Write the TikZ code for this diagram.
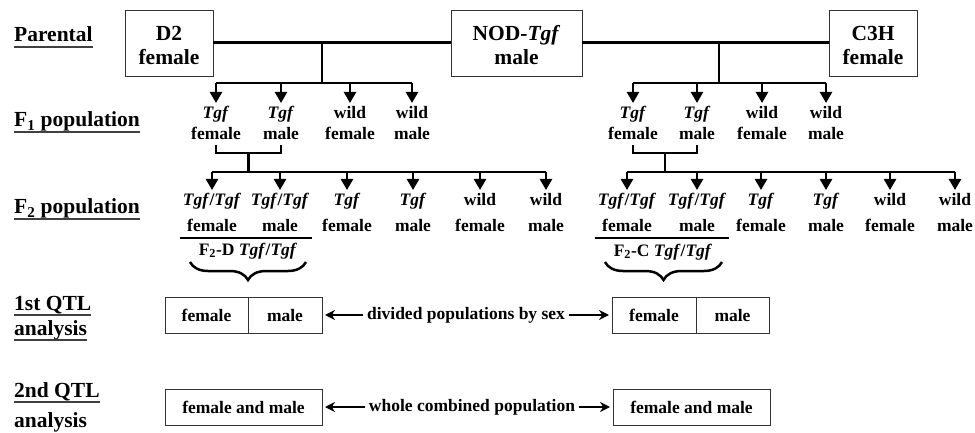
\documentclass[tikz,border=0pt]{standalone}
\usepackage{fontspec}
\setmainfont{Liberation Serif}
\usetikzlibrary{positioning,calc,arrows.meta,decorations.pathreplacing}
\tikzset{
  figfont/.style={font=\fontsize{17.5}{21}\selectfont\bfseries},
  rowfont/.style={font=\fontsize{21.5}{24}\selectfont\bfseries},
  rowlabel/.style={rowfont, anchor=base west, inner sep=0pt},
  rowline/.style={draw=black!75, line width=1.4pt},
  parentbox/.style={draw=black!80, line width=0.9pt, rowfont, align=center, minimum height=66pt, inner sep=0pt, text height=44pt, text depth=0pt},
  f1item/.style={figfont, align=center, anchor=north, inner sep=0pt},
  f2item/.style={font=\fontsize{17.5}{26}\selectfont\bfseries, align=center, anchor=north, inner sep=0pt},
  qtlbox/.style={draw=black!80, line width=0.9pt, figfont, minimum height=36pt, inner sep=0pt, outer sep=0pt, text height=12.5pt, text depth=0pt},
  sidetext/.style={figfont, inner sep=4pt},
  crossline/.style={line width=3pt},
  barline/.style={line width=2.5pt},
  hubline/.style={line width=2pt},
  droparrow/.style={line width=2.5pt, -{Triangle[width=12pt,length=11pt]}, shorten >=3pt},
  sidearrow/.style={line width=2.2pt, -{Stealth[length=10pt,width=10pt]}, shorten >=3pt},
  popbrace/.style={decorate, decoration={brace, mirror, amplitude=18pt}, line width=2.5pt},
}
\newcommand{\tgf}{\textit{Tgf}}

\begin{document}
\begin{tikzpicture}[x=1pt, y=-1pt]
  \useasboundingbox (0,0) rectangle (975,433);

  % Row labels, underlined
  \node[rowlabel] (lpar) at (14,42) {Parental};
  \node[rowlabel] (lfa) at (14,127) {F\textsubscript{1} population};
  \node[rowlabel] (lfb) at (14,214) {F\textsubscript{2} population};
  \node[rowlabel] (lqa) at (14,310) {1st QTL};
  \node[rowlabel] (lqb) at (14,335) {analysis};
  \node[rowlabel] (lqc) at (14,397) {2nd QTL};
  \node[rowlabel] (lqd) at (14,427) {analysis};
  \foreach \n in {lpar,lfa,lfb,lqa,lqb,lqc}
    \draw[rowline] ([yshift=-5pt]\n.base west) -- ([yshift=-5pt]\n.base east);

  % Parental cross
  \node[parentbox, minimum width=88pt] (d2) at (169,43) {D2\\female};
  \node[parentbox, minimum width=131pt] (nod) at (516.5,43) {NOD-\tgf\\male};
  \node[parentbox, minimum width=88pt] (c3h) at (873,43) {C3H\\female};
  \draw[crossline] (d2) -- (nod);
  \draw[crossline] (nod) -- (c3h);
  \coordinate (jd) at (322,43);
  \coordinate (hd) at (322,83);
  \coordinate (jc) at (719,43);
  \coordinate (hc) at (719,83);

  % F1 population
  \node[f1item] (fd1) at (216,106) {\tgf\\female};
  \node[f1item] (fd2) at (281,106) {\tgf\\male};
  \node[f1item] (fd3) at (350,106) {wild\\female};
  \node[f1item] (fd4) at (412,106) {wild\\male};
  \node[f1item] (fc1) at (633,106) {\tgf\\female};
  \node[f1item] (fc2) at (697,106) {\tgf\\male};
  \node[f1item] (fc3) at (762,106) {wild\\female};
  \node[f1item] (fc4) at (826,106) {wild\\male};
  \draw[barline] (jd) -- (hd);
  \draw[barline] (jc) -- (hc);
  \draw[barline] (fd1 |- hd) -- (fd4 |- hd);
  \draw[barline] (fc1 |- hc) -- (fc4 |- hc);
  \foreach \k in {fd1,fd2,fd3,fd4}
    \draw[droparrow] (\k |- hd) -- (\k.north);
  \foreach \k in {fc1,fc2,fc3,fc4}
    \draw[droparrow] (\k |- hc) -- (\k.north);

  % Tgf x Tgf intercross
  \coordinate (kd) at (248.5,153);
  \coordinate (gd) at (248.5,172);
  \coordinate (kc) at (665,153);
  \coordinate (gc) at (665,172);
  \draw[barline] ([yshift=-5pt]fd1.south) -- (fd1 |- kd) -- (fd2 |- kd) -- ([yshift=-5pt]fd2.south);
  \draw[barline] ([yshift=-5pt]fc1.south) -- (fc1 |- kc) -- (fc2 |- kc) -- ([yshift=-5pt]fc2.south);
  \draw[barline] (kd) -- (gd);
  \draw[barline] (kc) -- (gc);

  % F2 population
  \node[f2item] (sd1) at (212,193) {\tgf/\tgf\\female};
  \node[f2item] (sd2) at (280,193) {\tgf/\tgf\\male};
  \node[f2item] (sd3) at (347,193) {\tgf\\female};
  \node[f2item] (sd4) at (413,193) {\tgf\\male};
  \node[f2item] (sd5) at (480,193) {wild\\female};
  \node[f2item] (sd6) at (546,193) {wild\\male};
  \node[f2item] (sc1) at (627,193) {\tgf/\tgf\\female};
  \node[f2item] (sc2) at (697,193) {\tgf/\tgf\\male};
  \node[f2item] (sc3) at (761,193) {\tgf\\female};
  \node[f2item] (sc4) at (826,193) {\tgf\\male};
  \node[f2item] (sc5) at (890,193) {wild\\female};
  \node[f2item] (sc6) at (955,193) {wild\\male};
  \draw[hubline] (sd1 |- gd) -- (sd6 |- gd);
  \draw[hubline] (sc1 |- gc) -- (sc6 |- gc);
  \foreach \k in {sd1,sd2,sd3,sd4,sd5,sd6}
    \draw[droparrow] (\k |- gd) -- (\k.north);
  \foreach \k in {sc1,sc2,sc3,sc4,sc5,sc6}
    \draw[droparrow] (\k |- gc) -- (\k.north);

  % Tgf/Tgf groups
  \draw[barline] ([xshift=-3pt,yshift=-6pt]sd1.south west) -- ([xshift=3pt,yshift=-6pt]sd2.south east);
  \draw[barline] ([xshift=-3pt,yshift=-6pt]sc1.south west) -- ([xshift=3pt,yshift=-6pt]sc2.south east);
  \node[figfont, anchor=base, inner sep=0pt] (grd) at (248,255) {F\textsubscript{2}-D \tgf/\tgf};
  \node[figfont, anchor=base, inner sep=0pt] (grc) at (663,256) {F\textsubscript{2}-C \tgf/\tgf};
  \draw[popbrace] (190,262) -- (306,262);
  \draw[popbrace] (605,262) -- (722,262);

  % 1st QTL analysis
  \node[qtlbox, minimum width=83pt] (qfd) at (206.5,315) {female};
  \node[qtlbox, minimum width=74pt, right=0pt of qfd] (qmd) {male};
  \node[qtlbox, minimum width=84pt] (qfc) at (654,315) {female};
  \node[qtlbox, minimum width=73pt, right=0pt of qfc] (qmc) {male};
  \node[sidetext] (divtxt) at (466,315) {divided populations by sex};
  \draw[sidearrow] (divtxt) -- (qmd);
  \draw[sidearrow] (divtxt) -- (qfc);

  % 2nd QTL analysis
  \node[qtlbox, minimum width=157pt] (qbd) at (243.5,407) {female and male};
  \node[qtlbox, minimum width=157pt] (qbc) at (691.5,407) {female and male};
  \node[sidetext] (wholetxt) at (472,407) {whole combined population};
  \draw[sidearrow] (wholetxt) -- (qbd);
  \draw[sidearrow] (wholetxt) -- (qbc);
\end{tikzpicture}
\end{document}
